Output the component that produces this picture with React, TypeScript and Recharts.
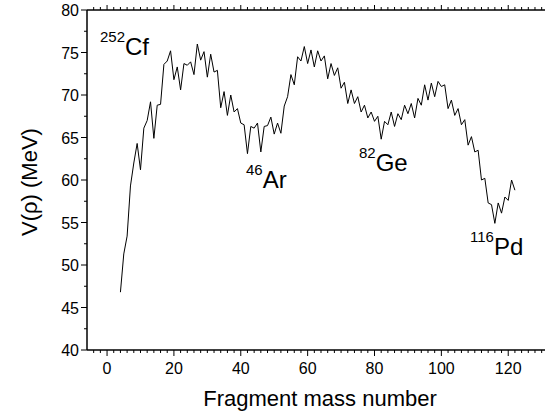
import { LineChart, Line, XAxis, YAxis } from "recharts";

const massNumbers = [
  4, 5, 6, 7, 8, 9, 10, 11, 12, 13, 14, 15, 16, 17, 18, 19, 20, 21, 22, 23,
  24, 25, 26, 27, 28, 29, 30, 31, 32, 33, 34, 35, 36, 37, 38, 39, 40, 41, 42,
  43, 44, 45, 46, 47, 48, 49, 50, 51, 52, 53, 54, 55, 56, 57, 58, 59, 60, 61,
  62, 63, 64, 65, 66, 67, 68, 69, 70, 71, 72, 73, 74, 75, 76, 77, 78, 79, 80,
  81, 82, 83, 84, 85, 86, 87, 88, 89, 90, 91, 92, 93, 94, 95, 96, 97, 98, 99,
  100, 101, 102, 103, 104, 105, 106, 107, 108, 109, 110, 111, 112, 113, 114,
  115, 116, 117, 118, 119, 120, 121, 122,
];

// V(rho) in MeV, one value per fragment mass number
const potential = [
  46.8, 51.3, 53.4, 59.3, 62.0, 64.3, 61.2, 66.1, 67.0, 69.2, 64.9, 68.8, 68.9,
  73.6, 74.0, 75.2, 71.8, 73.3, 70.6, 73.7, 73.5, 73.9, 72.4, 76.0, 74.1, 75.1,
  72.1, 74.8, 72.7, 72.9, 68.5, 70.4, 67.6, 70.0, 68.0, 68.4, 66.7, 66.5, 63.1,
  66.3, 66.1, 66.7, 63.3, 66.3, 66.4, 67.4, 65.4, 66.7, 65.5, 68.7, 69.8, 72.4,
  71.2, 74.5, 74.0, 75.7, 73.7, 75.3, 73.3, 75.2, 74.0, 74.6, 71.9, 73.7, 72.3,
  73.2, 70.8, 71.5, 69.0, 70.6, 69.0, 69.8, 68.0, 68.8, 67.3, 68.0, 66.9, 67.5,
  64.8, 66.9, 66.5, 68.0, 66.3, 67.8, 67.1, 68.8, 67.8, 69.0, 67.3, 69.6, 68.8,
  71.2, 69.4, 71.4, 69.8, 71.6, 71.0, 71.2, 68.4, 69.4, 67.6, 68.4, 66.5, 67.1,
  64.1, 65.1, 63.3, 63.5, 60.0, 60.2, 57.3, 57.1, 54.9, 57.3, 56.1, 58.0, 57.6,
  60.0, 58.8,
];

const xTicks = [
  -4, -2, 0, 2, 4, 6, 8, 10, 12, 14, 16, 18, 20, 22, 24, 26, 28, 30, 32, 34,
  36, 38, 40, 42, 44, 46, 48, 50, 52, 54, 56, 58, 60, 62, 64, 66, 68, 70, 72,
  74, 76, 78, 80, 82, 84, 86, 88, 90, 92, 94, 96, 98, 100, 102, 104, 106, 108,
  110, 112, 114, 116, 118, 120, 122, 124, 126, 128, 130,
];
const xMajor = [0, 20, 40, 60, 80, 100, 120];

const yTicks = [
  40, 42.5, 45, 47.5, 50, 52.5, 55, 57.5, 60, 62.5, 65, 67.5, 70, 72.5, 75,
  77.5, 80,
];
const yMajor = [40, 45, 50, 55, 60, 65, 70, 75, 80];

const annotations = [
  { mass: "252", name: "Cf", x: 100, y: 55 },
  { mass: "46", name: "Ar", x: 246, y: 188 },
  { mass: "82", name: "Ge", x: 359, y: 171 },
  { mass: "116", name: "Pd", x: 470, y: 255 },
];

const data = massNumbers.map((a, i) => ({ a, v: potential[i] }));

const FONT = '"Liberation Sans", Arial, sans-serif';

const BottomTick = ({ x, y, payload }: any) => {
  const major = xMajor.includes(payload.value);
  return (
    <g>
      <line x1={x} x2={x} y1={y} y2={y + (major ? 6 : 3)} stroke="#000" />
      {major && (
        <text x={x} y={y + 24} textAnchor="middle" fontSize={16} fill="#000" fontFamily={FONT}>
          {payload.value}
        </text>
      )}
    </g>
  );
};

const TopTick = ({ x, y, payload }: any) => {
  const major = xMajor.includes(payload.value);
  return <line x1={x} x2={x} y1={y} y2={y - (major ? 5 : 3)} stroke="#000" />;
};

const LeftTick = ({ x, y, payload }: any) => {
  const major = yMajor.includes(payload.value);
  return (
    <g>
      <line x1={x} x2={x - (major ? 6 : 3)} y1={y} y2={y} stroke="#000" />
      {major && (
        <text x={x - 8} y={y + 6} textAnchor="end" fontSize={16} fill="#000" fontFamily={FONT}>
          {payload.value}
        </text>
      )}
    </g>
  );
};

export default function App() {
  return (
    <div style={{ position: "absolute", left: 0, top: 0, width: 545, height: 417, background: "#fff" }}>
      <LineChart width={545} height={417} data={data} margin={{ top: 0, right: 0, bottom: 0, left: 0 }}>
        <XAxis
          dataKey="a"
          type="number"
          domain={[-6, 131]}
          ticks={xTicks}
          interval={0}
          allowDataOverflow
          height={67}
          tickSize={0}
          tickMargin={0}
          tickLine={false}
          axisLine={{ stroke: "#000", strokeWidth: 1.5 }}
          tick={<BottomTick />}
        />
        <XAxis
          xAxisId="top"
          orientation="top"
          dataKey="a"
          type="number"
          domain={[-6, 131]}
          ticks={xTicks}
          interval={0}
          allowDataOverflow
          height={10}
          tickSize={0}
          tickMargin={0}
          tickLine={false}
          axisLine={{ stroke: "#000", strokeWidth: 1.5 }}
          tick={<TopTick />}
        />
        <YAxis
          type="number"
          domain={[40, 80]}
          ticks={yTicks}
          interval={0}
          allowDataOverflow
          width={87}
          tickSize={0}
          tickMargin={0}
          tickLine={false}
          axisLine={{ stroke: "#000", strokeWidth: 1.5 }}
          tick={<LeftTick />}
        />
        <Line
          dataKey="v"
          type="linear"
          stroke="#000"
          strokeWidth={1}
          dot={false}
          isAnimationActive={false}
        />
      </LineChart>
      <svg
        width={545}
        height={417}
        style={{ position: "absolute", left: 0, top: 0, pointerEvents: "none" }}
        fontFamily={FONT}
      >
        {annotations.map((n) => (
          <text key={n.name} x={n.x} y={n.y} fill="#000">
            <tspan fontSize={15} dy={-13}>{n.mass}</tspan>
            <tspan fontSize={24} dy={13}>{n.name}</tspan>
          </text>
        ))}
        <text x={320} y={406} textAnchor="middle" fontSize={22} fill="#000">
          Fragment mass number
        </text>
        <text
          x={0}
          y={0}
          transform="translate(37,182) rotate(-90)"
          textAnchor="middle"
          fontSize={22}
          fill="#000"
        >
          V(ρ) (MeV)
        </text>
      </svg>
    </div>
  );
}
